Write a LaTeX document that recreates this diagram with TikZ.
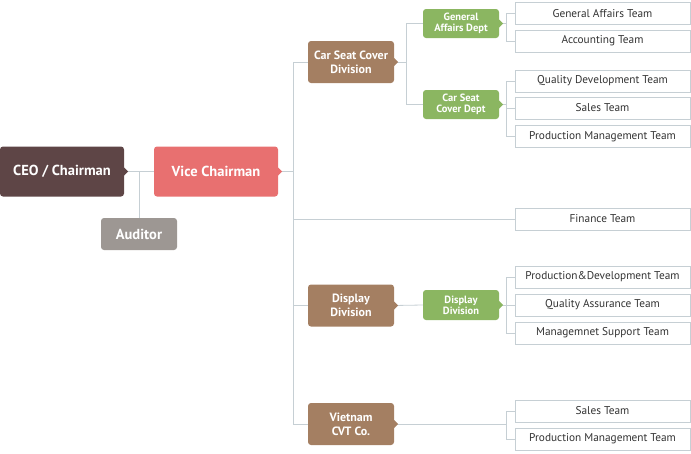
\documentclass[tikz,border=0pt]{standalone}
\usepackage{fontspec}
\setmainfont{PT Sans}
\definecolor{ceocol}{HTML}{5E4546}
\definecolor{vicecol}{HTML}{E87070}
\definecolor{audcol}{HTML}{9D9793}
\definecolor{divcol}{HTML}{A47F62}
\definecolor{deptcol}{HTML}{8BB661}
\definecolor{linecol}{HTML}{C6CFD4}
\definecolor{teamtext}{HTML}{333333}
\begin{document}
\begin{tikzpicture}[x=1pt, y=-1pt,
    every node/.style={inner sep=0pt, align=center},
    head/.style={rounded corners=3pt, text=white, minimum width=124pt, minimum height=50pt, font=\fontsize{14.5}{15}\selectfont\bfseries},
    division/.style={fill=divcol, rounded corners=3pt, text=white, minimum width=86pt, minimum height=42pt, font=\fontsize{12}{14}\selectfont\bfseries},
    dept/.style={fill=deptcol, rounded corners=3pt, text=white, minimum width=76pt, minimum height=29pt, font=\fontsize{10.5}{11}\selectfont\bfseries},
    team/.style={draw=linecol, line width=0.8pt, fill=white, text=teamtext, minimum width=175pt, minimum height=22pt, font=\fontsize{11.3}{12}\selectfont},
    link/.style={draw=linecol, line width=0.8pt}]
    \useasboundingbox (0,0) rectangle (691,453);
    % top of the chart
    \node[head, fill=ceocol] (ceo) at (62,171.5) {CEO / Chairman};
    \node[head, fill=vicecol] (vice) at (216,171.5) {Vice Chairman};
    \node[head, fill=audcol, minimum width=76pt, minimum height=32pt] (auditor) at (139,234) {Auditor};
    % divisions and depts
    \node[division] (carseat) at (351,62) {Car Seat Cover\\Division};
    \node[division] (display) at (351,305.5) {Display\\Division};
    \node[division] (vietnam) at (351,424) {Vietnam\\CVT Co.};
    \node[dept] (gad) at (461,23.5) {General\\Affairs Dept};
    \node[dept] (csd) at (461,104.5) {Car Seat\\Cover Dept};
    \node[dept, minimum height=30pt] (ddept) at (461,305) {Display\\Division};
    % teams
    \node[team] (gat) at (602.5,13.5) {General Affairs Team};
    \node[team] (acct) at (602.5,41) {Accounting Team};
    \node[team] (qdt) at (602.5,81) {Quality Development Team};
    \node[team] (sales1) at (602.5,108) {Sales Team};
    \node[team] (pmt1) at (602.5,136.5) {Production Management Team};
    \node[team] (finance) at (602.5,219) {Finance Team};
    \node[team] (pdt) at (602.5,277) {Production\&Development Team};
    \node[team] (qat) at (602.5,305) {Quality Assurance Team};
    \node[team] (mst) at (602.5,333) {Managemnet Support Team};
    \node[team] (sales2) at (602.5,411) {Sales Team};
    \node[team] (pmt2) at (602.5,439) {Production Management Team};
    % connectors
    \coordinate (spine) at (293,0);
    \draw[link] (ceo.east) -- (vice.west);
    \draw[link] (auditor.north) -- (auditor.north |- ceo.east);
    \draw[link] (vice.east) -- (vice.east -| spine);
    \draw[link] (carseat.west) -| (vietnam.west -| spine) -- (vietnam.west);
    \draw[link] (finance.west) -- (finance.west -| spine);
    \draw[link] (display.west) -- (display.west -| spine);
    \draw[link] (carseat.east) -- ++(13,0);
    \draw[link] (gad.west) -- ++(-16,0) |- (csd.west);
    \draw[link] (display.east) -- (ddept.west);
    \draw[link] (gad.east) -- ++(8,0);
    \draw[link] (gat.west) -- ++(-8,0) |- (acct.west);
    \draw[link] (csd.east) -- ++(8,0);
    \draw[link] (sales1.west) -- ++(-8,0);
    \draw[link] (qdt.west) -- ++(-8,0) |- (pmt1.west);
    \draw[link] (ddept.east) -- ++(8,0);
    \draw[link] (qat.west) -- ++(-8,0);
    \draw[link] (pdt.west) -- ++(-8,0) |- (mst.west);
    \draw[link] (vietnam.east) -- (vietnam.east -| 507,0);
    \draw[link] (sales2.west) -- ++(-8,0) |- (pmt2.west);
    % small pointers on the coloured boxes
    \foreach \n/\c in {ceo/ceocol, vice/vicecol, carseat/divcol, display/divcol, vietnam/divcol, gad/deptcol, csd/deptcol, ddept/deptcol}
        \fill[\c] ([yshift=4pt]\n.east) -- ++(4,4) -- ++(-4,4) -- cycle;
\end{tikzpicture}
\end{document}
